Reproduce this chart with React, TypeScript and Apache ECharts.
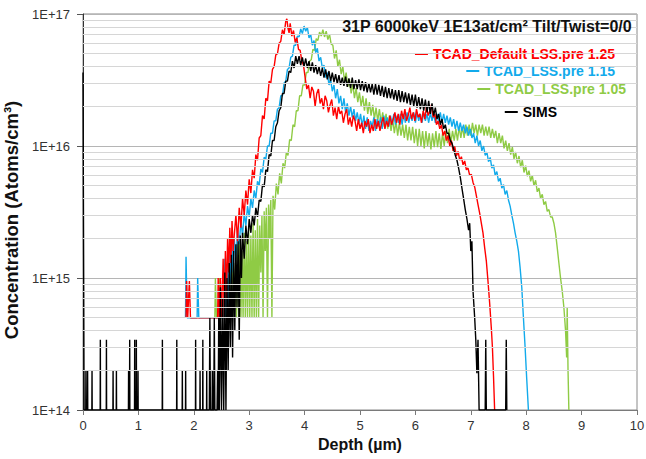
import React, { useEffect, useRef } from "react";
import * as echarts from "echarts";

const title = "31P 6000keV 1E13at/cm² Tilt/Twist=0/0";
const xTicks = [0, 1, 2, 3, 4, 5, 6, 7, 8, 9, 10];
const decades = [1e14, 1e15, 1e16];
const minorMultipliers = [2, 3, 4, 5, 6, 7, 8, 9];

const seriesNames = [
  "TCAD_Default LSS.pre 1.25",
  "TCAD_LSS.pre 1.15",
  "TCAD_LSS.pre 1.05",
  "SIMS",
];
const seriesColors = ["#ff0000", "#12aaeb", "#8fcb45", "#000000"];

// Depth (µm), concentration (atoms/cm3)
const red: [number, number][] = [
  [1.86,5e14],[1.87,9.5e14],[1.89,5e14],[1.92,9.5e14],[1.94,5e14],[2.1,5e14],[2.3,5e14],[2.43,5e14],[2.44,1e15],[2.46,5e14],[2.48,1e15],[2.5,5e14],[2.53,1.4e15],[2.55,5e14],[2.57,1.6e15],[2.59,7e14],[2.61,2.0e15],[2.63,1.1e15],[2.65,2.4e15],[2.67,1.3e15],[2.69,2.7e15],[2.71,1.6e15],[2.73,2.1e15],[2.76,3.0e15],[2.79,1.9e15],[2.82,3.4e15],[2.85,2.4e15],[2.88,4.0e15],[2.91,3.0e15],[2.94,4.6e15],[2.97,3.6e15],[3.00,5.6e15],[3.03,4.4e15],[3.06,6.6e15],[3.09,5.7e15],[3.12,8.6e15],[3.15,7.8e15],[3.18,1.15e16],[3.21,1.2e16],[3.24,1.7e16],[3.27,1.6e16],[3.30,2.3e16],[3.33,2.2e16],[3.36,3.1e16],[3.39,3.0e16],[3.42,3.8e16],[3.45,4.0e16],[3.48,4.9e16],[3.51,5.0e16],[3.54,6.0e16],[3.57,6.2e16],[3.60,7.6e16],[3.63,7.0e16],[3.66,8.8e16],[3.68,9.2e16],[3.70,7.8e16],[3.72,7.2e16],[3.74,8.5e16],[3.77,6.8e16],[3.80,7.5e16],[3.83,6.1e16],[3.86,6.6e16],[3.89,5.4e16],[3.92,5.3e16],[3.95,4.4e16],[3.98,4.1e16],
  [4.01,3.3e16],[4.04,2.7e16],[4.07,2.9e16],[4.10,2.3e16],[4.13,2.8e16],[4.16,2.6e16],[4.19,2.0e16],[4.22,2.5e16],[4.25,2.7e16],[4.28,2.1e16],[4.31,2.3e16],[4.34,1.9e16],[4.37,2.4e16],[4.40,2.2e16],[4.43,1.8e16],[4.46,2.05e16],[4.49,2.25e16],[4.52,1.7e16],[4.55,1.95e16],[4.58,1.6e16],[4.61,2.0e16],[4.64,1.75e16],[4.67,1.85e16],[4.70,1.5e16],[4.73,1.75e16],[4.76,1.9e16],[4.79,1.45e16],[4.82,1.65e16],[4.85,1.4e16],[4.88,1.7e16],[4.91,1.55e16],[4.94,1.3e16],[4.97,1.6e16],[5.00,1.35e16],[5.03,1.5e16],[5.06,1.25e16],[5.09,1.55e16],[5.12,1.4e16],[5.15,1.6e16],[5.18,1.25e16],[5.21,1.45e16],[5.24,1.3e16],[5.27,1.6e16],[5.30,1.35e16],[5.33,1.55e16],[5.36,1.3e16],[5.39,1.5e16],[5.42,1.65e16],[5.45,1.35e16],[5.48,1.55e16],[5.51,1.4e16],[5.54,1.7e16],[5.57,1.45e16],[5.60,1.6e16],[5.63,1.8e16],[5.66,1.5e16],[5.69,1.75e16],[5.72,1.45e16],[5.75,1.85e16],[5.78,1.6e16],[5.81,1.9e16],[5.84,1.55e16],[5.87,1.7e16],[5.90,1.95e16],[5.93,1.6e16],[5.96,1.8e16],[5.99,1.55e16],[6.02,1.9e16],[6.05,1.65e16],[6.08,1.75e16],[6.11,1.5e16],[6.14,1.85e16],[6.17,1.6e16],[6.20,2.0e16],[6.23,1.7e16],[6.26,1.85e16],[6.29,2.05e16],[6.32,1.65e16],[6.35,1.75e16],[6.38,1.45e16],[6.41,1.55e16],[6.44,1.35e16],[6.47,1.45e16],[6.50,1.2e16],[6.53,1.3e16],[6.56,1.1e16],[6.59,1.2e16],[6.62,1.0e16],[6.65,1.1e16],[6.68,9.2e15],[6.71,9.9e15],[6.74,8.4e15],[6.77,9.1e15],[6.80,7.8e15],[6.83,8.3e15],[6.86,7.2e15],[6.89,7.7e15],[6.92,6.6e15],[6.95,6.8e15],[6.98,6.0e15],[7.01,6.1e15],[7.04,5.3e15],[7.07,4.9e15],[7.10,4.2e15],[7.13,3.6e15],[7.16,3.1e15],[7.19,2.6e15],[7.22,2.2e15],[7.25,1.7e15],[7.28,1.35e15],[7.31,9.5e14],[7.34,6.5e14],[7.37,4.2e14],[7.39,3e14],[7.41,1.8e14],[7.43,1e14],
];

const blue: [number, number][] = [
  [1.85,5e14],[1.86,1.45e15],[1.88,5e14],[2.06,5e14],[2.07,1e15],[2.09,5e14],[2.3,5e14],[2.55,5e14],[2.56,1.4e15],[2.58,5e14],[2.61,1.3e15],[2.63,6e14],[2.65,1.6e15],[2.67,9e14],[2.69,1.8e15],[2.71,1.1e15],[2.73,2.0e15],[2.76,1.4e15],[2.79,2.3e15],[2.82,1.8e15],[2.85,2.7e15],[2.88,2.1e15],[2.91,3.1e15],[2.94,2.5e15],[2.97,3.5e15],[3.00,2.9e15],[3.03,4.0e15],[3.06,3.4e15],[3.09,4.6e15],[3.12,4.0e15],[3.15,5.4e15],[3.18,5.0e15],[3.21,6.7e15],[3.24,6.3e15],[3.27,8.2e15],[3.30,8.0e15],[3.33,1.0e16],[3.36,1.0e16],[3.39,1.25e16],[3.42,1.25e16],[3.45,1.55e16],[3.48,1.55e16],[3.51,1.9e16],[3.54,1.95e16],[3.57,2.4e16],[3.60,2.4e16],[3.63,3.0e16],[3.66,3.1e16],[3.69,3.8e16],[3.72,3.9e16],[3.75,4.7e16],[3.78,4.8e16],[3.81,5.8e16],[3.84,5.8e16],[3.87,6.8e16],[3.90,6.7e16],[3.93,7.7e16],[3.96,7.1e16],[3.99,8.1e16],
  [4.02,7.4e16],[4.05,7.9e16],[4.08,6.6e16],[4.11,7.0e16],[4.14,5.8e16],[4.17,6.3e16],[4.20,5.1e16],[4.23,5.5e16],[4.26,4.4e16],[4.29,4.7e16],[4.32,3.9e16],[4.35,4.1e16],[4.38,3.3e16],[4.41,3.6e16],[4.44,2.9e16],[4.47,3.2e16],[4.50,2.6e16],[4.53,2.9e16],[4.56,2.3e16],[4.59,2.7e16],[4.62,2.1e16],[4.65,2.4e16],[4.68,1.9e16],[4.71,2.3e16],[4.74,1.8e16],[4.77,2.1e16],[4.80,1.7e16],[4.83,2.0e16],[4.86,1.65e16],[4.89,1.9e16],[4.92,1.55e16],[4.95,1.8e16],[4.98,1.5e16],[5.01,1.75e16],[5.04,1.4e16],[5.07,1.7e16],[5.10,1.35e16],[5.13,1.65e16],[5.16,1.3e16],[5.19,1.55e16],[5.22,1.4e16],[5.25,1.65e16],[5.28,1.3e16],[5.31,1.6e16],[5.34,1.4e16],[5.37,1.65e16],[5.40,1.35e16],[5.43,1.7e16],[5.46,1.45e16],[5.49,1.65e16],[5.52,1.4e16],[5.55,1.7e16],[5.58,1.45e16],[5.61,1.75e16],[5.64,1.45e16],[5.67,1.7e16],[5.70,1.5e16],[5.73,1.75e16],[5.76,1.45e16],[5.79,1.75e16],[5.82,1.5e16],[5.85,1.8e16],[5.88,1.5e16],[5.91,1.75e16],[5.94,1.55e16],[5.97,1.8e16],[6.00,1.5e16],[6.03,1.8e16],[6.06,1.55e16],[6.09,1.75e16],[6.12,1.5e16],[6.15,1.8e16],[6.18,1.55e16],[6.21,1.75e16],[6.24,1.5e16],[6.27,1.8e16],[6.30,1.55e16],[6.33,1.75e16],[6.36,1.5e16],[6.39,1.75e16],[6.42,1.55e16],[6.45,1.8e16],[6.48,1.5e16],[6.51,1.75e16],[6.54,1.5e16],[6.57,1.7e16],[6.60,1.45e16],[6.63,1.65e16],[6.66,1.4e16],[6.69,1.6e16],[6.72,1.35e16],[6.75,1.55e16],[6.78,1.3e16],[6.81,1.5e16],[6.84,1.3e16],[6.87,1.45e16],[6.90,1.25e16],[6.93,1.4e16],[6.96,1.2e16],[6.99,1.35e16],[7.02,1.15e16],[7.05,1.25e16],[7.08,1.05e16],[7.11,1.2e16],[7.14,1.0e16],[7.17,1.1e16],[7.20,9.2e15],[7.23,1.0e16],[7.26,8.5e15],[7.29,9.0e15],[7.32,7.6e15],[7.35,8.2e15],[7.38,6.8e15],[7.41,7.2e15],[7.44,6.0e15],[7.47,6.4e15],[7.50,5.4e15],[7.53,5.7e15],[7.56,4.8e15],[7.59,5.1e15],[7.62,4.3e15],[7.65,4.6e15],[7.68,3.9e15],[7.71,3.5e15],[7.74,3.0e15],[7.77,2.6e15],[7.80,2.2e15],[7.83,1.9e15],[7.86,1.6e15],[7.89,1.2e15],[7.92,8.5e14],[7.95,5e14],[7.98,3e14],[8.01,1.7e14],[8.04,1e14],
];

const green: [number, number][] = [
  [2.38,5e14],[2.39,1e15],[2.41,5e14],[2.45,5e14],[2.46,1e15],[2.48,5e14],[2.57,5e14],[2.58,9e14],[2.60,5e14],[2.66,5e14],[2.67,1.2e15],[2.69,5e14],[2.71,1.5e15],[2.73,5e14],[2.75,1.3e15],[2.77,5e14],[2.79,1.8e15],[2.81,5e14],[2.83,2.0e15],[2.85,5e14],[2.87,1.6e15],[2.89,5e14],[2.91,2.2e15],[2.93,5e14],[2.95,1.9e15],[2.97,5e14],[2.99,2.4e15],[3.01,5e14],[3.03,2.1e15],[3.05,5e14],[3.07,2.6e15],[3.09,5e14],[3.11,2.3e15],[3.13,5e14],[3.15,2.8e15],[3.17,5e14],[3.19,2.5e15],[3.21,1.1e15],[3.23,3.0e15],[3.25,5e14],[3.27,3.2e15],[3.29,1.6e15],[3.31,3.4e15],[3.33,5e14],[3.35,3.6e15],[3.37,2.0e15],[3.39,3.9e15],[3.41,5e14],[3.43,4.2e15],[3.46,3.3e15],[3.49,5.2e15],[3.52,4.3e15],[3.55,6.2e15],[3.58,5.2e15],[3.61,7.4e15],[3.64,6.8e15],[3.67,8.9e15],[3.70,8.5e15],[3.73,1.12e16],[3.76,1.1e16],[3.79,1.45e16],[3.82,1.4e16],[3.85,1.85e16],[3.88,1.85e16],[3.91,2.4e16],[3.94,2.4e16],[3.97,2.9e16],[4.00,2.9e16],[4.03,3.6e16],[4.06,3.6e16],[4.09,4.4e16],[4.12,4.5e16],[4.15,5.4e16],[4.18,5.3e16],[4.21,6.5e16],[4.24,6.3e16],[4.27,7.3e16],[4.30,6.8e16],[4.33,7.6e16],[4.36,6.7e16],[4.39,7.4e16],[4.42,6.4e16],[4.45,7.0e16],[4.48,5.9e16],[4.51,5.8e16],[4.54,4.6e16],[4.57,5.3e16],[4.60,4.0e16],[4.63,4.5e16],[4.66,3.5e16],[4.69,4.0e16],[4.72,3.1e16],[4.75,3.6e16],[4.78,2.8e16],[4.81,3.2e16],[4.84,2.5e16],[4.87,2.95e16],[4.90,2.3e16],[4.93,2.75e16],[4.96,2.15e16],[4.99,2.55e16],[5.02,2.0e16],[5.05,2.4e16],[5.08,1.85e16],[5.11,2.3e16],[5.14,1.75e16],[5.17,2.15e16],[5.20,1.7e16],[5.23,2.05e16],[5.26,1.6e16],[5.29,1.95e16],[5.32,1.55e16],[5.35,1.9e16],[5.38,1.5e16],[5.41,1.8e16],[5.44,1.4e16],[5.47,1.75e16],[5.50,1.35e16],[5.53,1.7e16],[5.56,1.3e16],[5.59,1.6e16],[5.62,1.25e16],[5.65,1.55e16],[5.68,1.2e16],[5.71,1.5e16],[5.74,1.2e16],[5.77,1.45e16],[5.80,1.15e16],[5.83,1.45e16],[5.86,1.1e16],[5.89,1.4e16],[5.92,1.1e16],[5.95,1.4e16],[5.98,1.05e16],[6.01,1.35e16],[6.04,1.0e16],[6.07,1.35e16],[6.10,1.0e16],[6.13,1.3e16],[6.16,9.6e15],[6.19,1.3e16],[6.22,1.0e16],[6.25,1.25e16],[6.28,9.4e15],[6.31,1.25e16],[6.34,9.8e15],[6.37,1.3e16],[6.40,9.8e15],[6.43,1.25e16],[6.46,9.5e15],[6.49,1.25e16],[6.52,1.0e16],[6.55,1.3e16],[6.58,1.05e16],[6.61,1.35e16],[6.64,1.05e16],[6.67,1.3e16],[6.70,1.1e16],[6.73,1.35e16],[6.76,1.1e16],[6.79,1.4e16],[6.82,1.15e16],[6.85,1.4e16],[6.88,1.15e16],[6.91,1.45e16],[6.94,1.2e16],[6.97,1.45e16],[7.00,1.2e16],[7.03,1.5e16],[7.06,1.25e16],[7.09,1.45e16],[7.12,1.2e16],[7.15,1.45e16],[7.18,1.25e16],[7.21,1.45e16],[7.24,1.2e16],[7.27,1.4e16],[7.30,1.2e16],[7.33,1.4e16],[7.36,1.15e16],[7.39,1.35e16],[7.42,1.15e16],[7.45,1.3e16],[7.48,1.05e16],[7.51,1.25e16],[7.54,1.05e16],[7.57,1.2e16],[7.60,9.6e15],[7.63,1.1e16],[7.66,9.2e15],[7.69,1.05e16],[7.72,8.6e15],[7.75,9.8e15],[7.78,8.0e15],[7.81,9.0e15],[7.84,7.4e15],[7.87,8.4e15],[7.90,6.9e15],[7.93,7.8e15],[7.96,6.3e15],[7.99,7.1e15],[8.02,5.9e15],[8.05,6.5e15],[8.08,5.4e15],[8.11,6.0e15],[8.14,5.0e15],[8.17,5.5e15],[8.20,4.5e15],[8.23,4.8e15],[8.26,4.0e15],[8.29,4.3e15],[8.32,3.6e15],[8.35,3.8e15],[8.38,3.2e15],[8.41,3.3e15],[8.44,2.9e15],[8.47,2.9e15],[8.50,2.6e15],[8.53,2.2e15],[8.56,1.7e15],[8.59,1.3e15],[8.62,1.0e15],[8.65,8e14],[8.68,6e14],[8.71,4e14],[8.73,2.5e14],[8.74,6e14],[8.755,2e14],[8.77,1e14],
];

const sims: [number, number][] = [
  [0,3.6e16],[0.02,1e14],
  [0.05,1e14],[0.053,2e14],[0.056,1e14],[0.08,1e14],[0.083,2e14],[0.086,1e14],[0.16,1e14],[0.163,2e14],[0.166,1e14],[0.31,1e14],[0.313,3.4e14],[0.316,1e14],[0.42,1e14],[0.423,3.4e14],[0.426,1e14],[0.54,1e14],[0.543,2e14],[0.546,1e14],[0.6,1e14],[0.603,2e14],[0.606,1e14],[0.82,1e14],[0.823,2e14],[0.826,1e14],[0.84,1e14],[0.843,3.4e14],[0.846,1e14],[0.93,1e14],[0.933,3.4e14],[0.936,1e14],[0.96,1e14],[0.963,3.4e14],[0.966,1e14],[0.99,1e14],[0.993,2e14],[0.996,1e14],
  [1.43,1e14],[1.433,3.4e14],[1.436,1e14],[1.69,1e14],[1.693,3.4e14],[1.696,1e14],[1.79,1e14],[1.793,2e14],[1.796,1e14],[1.85,1e14],[1.853,2e14],[1.856,1e14],[2.03,1e14],[2.033,3.4e14],[2.036,1e14],[2.11,1e14],[2.113,2e14],[2.116,1e14],[2.16,1e14],[2.163,3.4e14],[2.166,1e14],[2.23,1e14],[2.233,2e14],[2.236,1e14],[2.28,1e14],[2.29,5e14],[2.30,1e14],[2.33,1e14],[2.335,2e14],[2.34,1e14],[2.36,1e14],[2.37,5e14],[2.38,1e14],[2.42,1e14],[2.43,2e14],[2.44,1e14],[2.45,5e14],[2.46,1e14],[2.48,8.5e14],[2.50,1e14],[2.52,7e14],[2.54,1e14],[2.56,1.1e15],[2.58,1e14],[2.60,1.0e15],
  [2.62,2e14],[2.64,1.3e15],[2.66,3e14],[2.68,1.5e15],[2.70,2.5e14],[2.72,1.6e15],[2.74,4e14],[2.76,1.8e15],[2.78,6e14],[2.80,1.9e15],[2.82,3.4e14],[2.84,2.1e15],[2.86,1.0e15],[2.88,2.2e15],[2.91,1.4e15],[2.94,2.5e15],[2.97,1.8e15],[3.00,2.8e15],[3.03,2.2e15],[3.06,3.0e15],[3.09,2.5e15],[3.12,3.4e15],[3.15,2.9e15],[3.18,3.9e15],[3.21,3.8e15],[3.24,5.1e15],[3.27,4.9e15],[3.30,6.6e15],[3.33,6.4e15],[3.36,8.6e15],[3.39,8.4e15],[3.42,1.1e16],[3.45,1.1e16],[3.48,1.4e16],[3.51,1.5e16],[3.54,1.85e16],[3.57,1.95e16],[3.60,2.5e16],[3.63,2.5e16],[3.66,3.1e16],[3.69,3.1e16],[3.72,3.7e16],[3.75,3.6e16],[3.78,4.4e16],[3.81,3.9e16],[3.84,4.8e16],[3.87,4.2e16],[3.90,4.8e16],[3.93,4.1e16],[3.96,4.7e16],[3.99,4.0e16],[4.02,4.6e16],[4.05,3.9e16],[4.08,4.4e16],[4.11,3.7e16],[4.14,4.3e16],[4.17,3.6e16],[4.20,4.1e16],[4.23,3.5e16],[4.26,4.0e16],[4.29,3.4e16],[4.32,3.9e16],[4.35,3.3e16],[4.38,3.8e16],[4.41,3.2e16],[4.44,3.7e16],[4.47,3.1e16],[4.50,3.6e16],[4.53,3.05e16],[4.56,3.5e16],[4.59,2.95e16],[4.62,3.45e16],[4.65,2.9e16],[4.68,3.3e16],[4.71,2.85e16],[4.74,3.35e16],[4.77,2.8e16],[4.80,3.25e16],[4.83,2.75e16],[4.86,3.3e16],[4.89,2.7e16],[4.92,3.15e16],[4.95,2.7e16],[4.98,3.2e16],[5.01,2.65e16],[5.04,3.1e16],[5.07,2.6e16],[5.10,3.05e16],[5.13,2.55e16],[5.16,3.0e16],[5.19,2.55e16],[5.22,2.95e16],[5.25,2.45e16],[5.28,2.95e16],[5.31,2.45e16],[5.34,2.9e16],[5.37,2.4e16],[5.40,2.85e16],[5.43,2.35e16],[5.46,2.8e16],[5.49,2.3e16],[5.52,2.75e16],[5.55,2.3e16],[5.58,2.7e16],[5.61,2.25e16],[5.64,2.65e16],[5.67,2.2e16],[5.70,2.65e16],[5.73,2.15e16],[5.76,2.6e16],[5.79,2.15e16],[5.82,2.55e16],[5.85,2.1e16],[5.88,2.5e16],[5.91,2.05e16],[5.94,2.45e16],[5.97,2.0e16],[6.00,2.45e16],[6.03,1.95e16],[6.06,2.35e16],[6.09,1.9e16],[6.12,2.3e16],[6.15,1.85e16],[6.18,2.25e16],[6.21,1.8e16],[6.24,2.2e16],[6.27,1.75e16],[6.30,2.1e16],[6.33,1.7e16],[6.36,1.95e16],[6.39,1.6e16],[6.42,1.75e16],[6.45,1.45e16],[6.48,1.6e16],[6.51,1.35e16],[6.54,1.45e16],[6.57,1.25e16],[6.60,1.25e16],[6.63,1.1e16],[6.66,1.05e16],[6.69,9.5e15],[6.72,8.5e15],[6.75,7.8e15],[6.78,6.8e15],[6.81,5.8e15],[6.84,4.8e15],[6.87,4.0e15],[6.90,3.3e15],[6.93,2.8e15],[6.96,2.3e15],[6.98,2.6e15],[7.00,1.6e15],[7.02,1.9e15],[7.04,8e14],[7.07,5e14],[7.09,3.4e14],[7.11,1.9e14],[7.13,3.4e14],[7.15,1e14],[7.26,1e14],[7.27,3.4e14],[7.28,1e14],[7.63,1e14],[7.64,3.4e14],[7.65,1e14],
];

const FONT = "'Liberation Sans', Arial, sans-serif";

export default function App() {
  const ref = useRef<HTMLDivElement>(null);

  useEffect(() => {
    if (!ref.current) return;
    const chart = echarts.init(ref.current, undefined, { renderer: "svg" });
    const minorGrid: number[] = [];
    decades.forEach((d) => minorMultipliers.forEach((m) => minorGrid.push(d * m)));
    const datasets = [red, blue, green, sims];

    const legendPos = [
      { right: 31, top: 47 },
      { right: 31, top: 64 },
      { right: 20, top: 82 },
      { right: 89, top: 105 },
    ];

    const dataSeries = datasets.map((d, i) => ({
      name: seriesNames[i],
      type: "line",
      data: d,
      showSymbol: false,
      symbol: "none",
      color: seriesColors[i],
      lineStyle: { color: seriesColors[i], width: 1.4 },
      z: 3,
      silent: true,
    }));
    // draw order: green, blue, red, sims
    const ordered = [dataSeries[2], dataSeries[1], dataSeries[0], dataSeries[3]];

    chart.setOption({
      animation: false,
      textStyle: { fontFamily: FONT },
      title: {
        text: title,
        right: 14,
        top: 18,
        padding: 0,
        textStyle: { fontSize: 16, fontWeight: "bold", color: "#111", fontFamily: FONT },
      },
      legend: seriesNames.map((n, i) => ({
        data: [{ name: n, textStyle: { color: seriesColors[i] } }],
        right: legendPos[i].right,
        top: legendPos[i].top,
        padding: 0,
        icon: "rect",
        itemWidth: 13,
        itemHeight: 2,
        itemGap: 4,
        itemStyle: { color: seriesColors[i], borderWidth: 0 },
        selectedMode: false,
        textStyle: { fontSize: 14, fontWeight: "bold", fontFamily: FONT, padding: [0, 0, 0, 0] },
      })),
      grid: {
        left: 83,
        right: 9,
        top: 14,
        bottom: 49,
        show: true,
        borderColor: "#8a8a8a",
        borderWidth: 1,
        containLabel: false,
        outerBoundsMode: "none",
      },
      xAxis: {
        type: "value",
        min: xTicks[0],
        max: xTicks[xTicks.length - 1],
        interval: 1,
        name: "Depth (µm)",
        nameLocation: "middle",
        nameGap: 25,
        nameTextStyle: { fontSize: 16, fontWeight: "bold", color: "#111", fontFamily: FONT },
        axisLine: { lineStyle: { color: "#7a7a7a", width: 1 } },
        axisTick: { show: true, length: 5, lineStyle: { color: "#7a7a7a" } },
        axisLabel: { fontSize: 13, color: "#333", margin: 9, fontFamily: FONT },
        splitLine: { show: false },
      },
      yAxis: {
        type: "log",
        logBase: 10,
        min: 1e14,
        max: 1e17,
        name: "Concentration (Atoms/cm³)",
        nameLocation: "middle",
        nameGap: 54,
        nameTextStyle: {
          fontSize: 18.5,
          fontWeight: "bold",
          color: "#111",
          fontFamily: FONT,
          padding: [0, 16, 0, 0],
        },
        axisLine: { show: true, lineStyle: { color: "#333", width: 1 } },
        axisTick: { show: true, length: 6, lineStyle: { color: "#555" } },
        axisLabel: {
          fontSize: 13,
          color: "#333",
          margin: 13,
          fontFamily: FONT,
          formatter: (v: number) => "1E+" + Math.round(Math.log10(v)),
        },
        splitLine: { show: true, lineStyle: { color: "#b5b5b5", width: 1 } },
      },
      series: [
        {
          name: "grid-minor",
          type: "line",
          data: [],
          z: 1,
          silent: true,
          markLine: {
            silent: true,
            symbol: ["none", "none"],
            label: { show: false },
            lineStyle: { color: "#d6d6d6", type: "solid", width: 1 },
            data: minorGrid.map((v) => ({ yAxis: v })),
          },
        },
        ...ordered,
      ],
    });
    return () => chart.dispose();
  }, []);

  return (
    <div
      ref={ref}
      style={{ position: "fixed", left: 0, top: 0, width: 646, height: 459, background: "#fff" }}
    />
  );
}
